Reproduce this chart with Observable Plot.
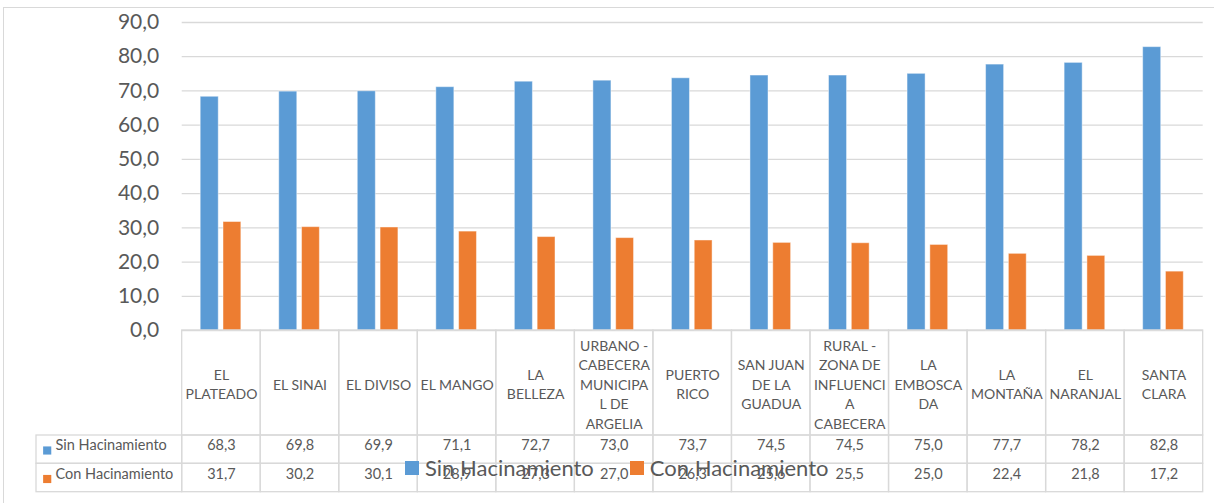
<!DOCTYPE html>
<html>
<head>
<meta charset="utf-8">
<script src="https://cdn.jsdelivr.net/npm/d3@7"></script>
<script src="https://cdn.jsdelivr.net/npm/@observablehq/plot@0.6"></script>
<style>
  body { margin: 0; background: #fff; }
  #wrap { position: relative; width: 1214px; height: 503px; overflow: hidden; font-family: Lato, "Open Sans", sans-serif; }
  #border { position: absolute; left: 3px; top: 7px; width: 1240px; height: 530px; border: 1.3px solid #d9d9d9; box-sizing: border-box; pointer-events: none; }
  #legend { position: absolute; left: 405px; top: 456px; display: flex; align-items: center; font-size: 22px; color: #595959; line-height: 24px; }
  #legend .item { display: flex; align-items: center; margin-right: 36px; }
  #legend .sw { width: 14px; height: 14px; margin-right: 6px; }
</style>
</head>
<body>
<div id="wrap"></div>
<script>
const categories = ["EL PLATEADO", "EL SINAI", "EL DIVISO", "EL MANGO", "LA BELLEZA", "URBANO - CABECERA MUNICIPAL DE ARGELIA", "PUERTO RICO", "SAN JUAN DE LA GUADUA", "RURAL - ZONA DE INFLUENCIA CABECERA", "LA EMBOSCADA", "LA MONTAÑA", "EL NARANJAL", "SANTA CLARA"];
const categoryLabels = ["EL\nPLATEADO", "EL SINAI", "EL DIVISO", "EL MANGO", "LA\nBELLEZA", "URBANO -\nCABECERA\nMUNICIPA\nL DE\nARGELIA", "PUERTO\nRICO", "SAN JUAN\nDE LA\nGUADUA", "RURAL -\nZONA DE\nINFLUENCI\nA\nCABECERA", "LA\nEMBOSCA\nDA", "LA\nMONTAÑA", "EL\nNARANJAL", "SANTA\nCLARA"];
const sinHacinamiento = [68.3, 69.8, 69.9, 71.1, 72.7, 73.0, 73.7, 74.5, 74.5, 75.0, 77.7, 78.2, 82.8];
const conHacinamiento = [31.7, 30.2, 30.1, 28.9, 27.3, 27.0, 26.3, 25.6, 25.5, 25.0, 22.4, 21.8, 17.2];
const seriesNames = ["Sin Hacinamiento", "Con Hacinamiento"];
const seriesColors = ["#5B9BD5", "#ED7D31"];
const yTicks = [0, 10, 20, 30, 40, 50, 60, 70, 80, 90];

const fmt = d => d3.format(".1f")(d).replace(".", ",");
const textColor = "#595959";
const lineStyle = {fill: "none", stroke: "#d9d9d9", strokeWidth: 1.3};

const chart = Plot.plot({
  width: 1214,
  height: 503,
  marginLeft: 181.7,
  marginRight: 11.3,
  marginTop: 22,
  marginBottom: 173,
  style: {fontFamily: "Lato, 'Open Sans', sans-serif", color: textColor, background: "transparent", overflow: "visible"},
  x: {type: "band", domain: categories, padding: 0, round: false, axis: null},
  y: {domain: [0, 90], axis: null},
  marks: [
    Plot.gridY(yTicks, {stroke: "#d9d9d9", strokeOpacity: 1, strokeWidth: 1.3}),
    Plot.axisY(yTicks, {tickSize: 0, tickPadding: 23, tickFormat: fmt, fontSize: 21, fill: textColor, label: null}),
    Plot.barY(categories, {x: d => d, y: (d, i) => sinHacinamiento[i], fill: seriesColors[0], stroke: "#fff", strokeOpacity: 0.45, strokeWidth: 1, insetLeft: 18.5, insetRight: 42}),
    Plot.barY(categories, {x: d => d, y: (d, i) => conHacinamiento[i], fill: seriesColors[1], stroke: "#fff", strokeOpacity: 0.45, strokeWidth: 1, insetLeft: 41.3, insetRight: 19.4}),
    // data table: header cells and value rows
    Plot.cell(categories, {x: d => d, ...lineStyle, insetTop: 308, insetBottom: -105}),
    Plot.cell(categories, {x: d => d, ...lineStyle, insetTop: 413, insetBottom: -133.3}),
    Plot.cell(categories, {x: d => d, ...lineStyle, insetTop: 441.3, insetBottom: -161.7}),
    Plot.cell([categories[0]], {x: d => d, ...lineStyle, insetLeft: -145.7, insetRight: 78.54, insetTop: 413, insetBottom: -133.3}),
    Plot.cell([categories[0]], {x: d => d, ...lineStyle, insetLeft: -145.7, insetRight: 78.54, insetTop: 441.3, insetBottom: -161.7}),
    Plot.text(categories, {x: d => d, text: (d, i) => categoryLabels[i], frameAnchor: "bottom", dy: 53, lineAnchor: "middle", lineHeight: 1.39, fontSize: 14, fill: textColor}),
    Plot.text(categories, {x: d => d, text: (d, i) => fmt(sinHacinamiento[i]), frameAnchor: "bottom", dy: 119.5, fontSize: 14.5, fill: textColor}),
    Plot.text(categories, {x: d => d, text: (d, i) => fmt(conHacinamiento[i]), frameAnchor: "bottom", dy: 148, fontSize: 14.5, fill: textColor}),
    Plot.text([seriesNames[0]], {text: d => d, frameAnchor: "bottom-left", textAnchor: "start", dx: -126.7, dy: 119.5, fontSize: 14.5, fill: textColor}),
    Plot.text([seriesNames[1]], {text: d => d, frameAnchor: "bottom-left", textAnchor: "start", dx: -126.7, dy: 148, fontSize: 14.5, fill: textColor}),
    Plot.dot([seriesNames[0]], {frameAnchor: "bottom-left", dx: -135, dy: 120, symbol: "square", r: 4.6, fill: seriesColors[0], stroke: "none"}),
    Plot.dot([seriesNames[1]], {frameAnchor: "bottom-left", dx: -135, dy: 148.5, symbol: "square", r: 4.6, fill: seriesColors[1], stroke: "none"})
  ]
});

const wrap = document.getElementById("wrap");
chart.style.position = "absolute";
chart.style.left = "0px";
chart.style.top = "0px";
wrap.appendChild(chart);

const border = document.createElement("div");
border.id = "border";
wrap.appendChild(border);

const legend = document.createElement("div");
legend.id = "legend";
seriesNames.forEach((name, i) => {
  const item = document.createElement("div");
  item.className = "item";
  const sw = document.createElement("span");
  sw.className = "sw";
  sw.style.background = seriesColors[i];
  const label = document.createElement("span");
  label.textContent = name;
  item.appendChild(sw);
  item.appendChild(label);
  legend.appendChild(item);
});
wrap.appendChild(legend);
</script>
</body>
</html>
